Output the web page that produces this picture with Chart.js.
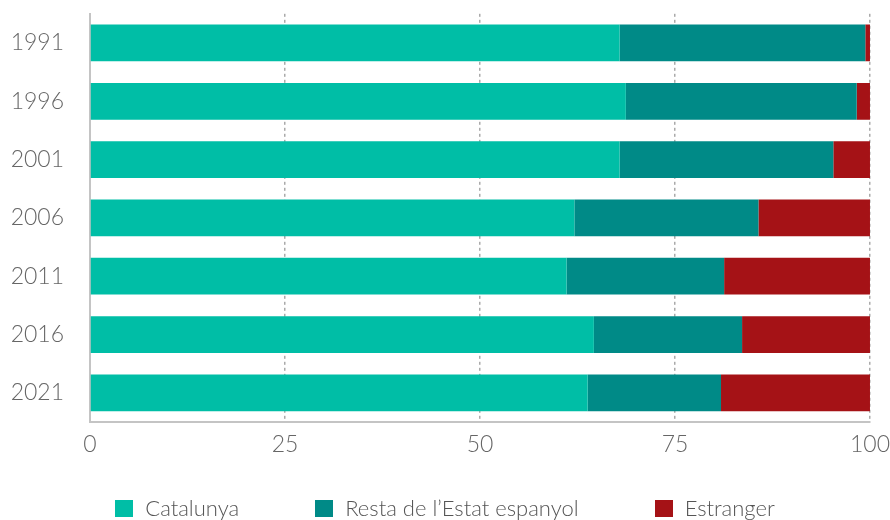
<!DOCTYPE html>
<html>
<head>
<meta charset="utf-8">
<script src="https://cdn.jsdelivr.net/npm/chart.js@4"></script>
<style>
    html, body { margin: 0; padding: 0; background: #fff; }
    #wrap { position: relative; width: 890px; height: 520px; }
    #legend {
        position: absolute; left: 0; top: 496px; width: 890px; height: 24px;
        display: flex; justify-content: center; gap: 76px;
        font-family: 'Lato', 'Open Sans', sans-serif; font-weight: 300;
        font-size: 22px; line-height: 24px; color: #555;
    }
    #legend .item { display: flex; align-items: center; height: 24px; }
    #legend .box { width: 18px; height: 17px; margin-right: 12px; }
</style>
</head>
<body>
<div id="wrap">
    <canvas id="chart" width="890" height="520"></canvas>
    <div id="legend"></div>
</div>
<script>
// datos (% de població segons lloc de naixement)
const years = ['1991', '1996', '2001', '2006', '2011', '2016', '2021'];
const seriesNames = ['Catalunya', 'Resta de l\u2019Estat espanyol', 'Estranger'];
const catalunya = [67.9, 68.7, 67.9, 62.1, 61.1, 64.6, 63.8];
const restaEstat = [31.5, 29.6, 27.4, 23.6, 20.2, 19.0, 17.1];
const estranger = [0.6, 1.7, 4.7, 14.3, 18.7, 16.4, 19.1];
const xTicks = [0, 25, 50, 75, 100];

const colors = ['#00bea6', '#008a87', '#a51216'];
const tickFont = { family: "'Lato', 'Open Sans', sans-serif", size: 23, weight: 300 };

const ctx = document.getElementById('chart').getContext('2d');
new Chart(ctx, {
    type: 'bar',
    data: {
        labels: years,
        datasets: [catalunya, restaEstat, estranger].map((data, i) => ({
            label: seriesNames[i],
            data: data,
            backgroundColor: colors[i],
            borderWidth: 0,
            barPercentage: 0.63,
            categoryPercentage: 1
        }))
    },
    options: {
        indexAxis: 'y',
        responsive: false,
        animation: false,
        layout: { padding: { top: 13, right: 16, left: 0, bottom: 0 } },
        plugins: {
            legend: { display: false },
            tooltip: { enabled: false }
        },
        scales: {
            x: {
                stacked: true,
                min: 0,
                max: 100,
                afterBuildTicks: (scale) => {
                    scale.ticks = xTicks.map(v => ({ value: v }));
                },
                afterFit: (scale) => { scale.height = 98; },
                grid: {
                    drawTicks: true,
                    tickLength: 9,
                    tickColor: 'rgba(0,0,0,0)',
                    color: (c) => c.tick && c.tick.value === 0 ? 'rgba(0,0,0,0)' : '#aaaaaa',
                    lineWidth: 1.5
                },
                border: { display: true, color: '#c4c4c4', width: 2, dash: [3, 3] },
                ticks: { font: tickFont, color: '#666', padding: 0, maxRotation: 0 }
            },
            y: {
                stacked: true,
                afterFit: (scale) => { scale.width = 90; },
                grid: {
                    display: true,
                    drawOnChartArea: false,
                    drawTicks: true,
                    tickLength: 26,
                    tickColor: 'rgba(0,0,0,0)'
                },
                border: { display: true, color: '#c4c4c4', width: 2 },
                ticks: { font: tickFont, color: '#666', padding: 0 }
            }
        }
    },
    plugins: [{
        id: 'solidAxes',
        // les línies d'eix han de ser contínues, la graella discontínua
        afterDraw(chart) {
            const { ctx, chartArea } = chart;
            ctx.save();
            ctx.strokeStyle = '#c4c4c4';
            ctx.lineWidth = 2;
            ctx.setLineDash([]);
            ctx.beginPath();
            ctx.moveTo(chartArea.left, chartArea.bottom);
            ctx.lineTo(chartArea.right, chartArea.bottom);
            ctx.stroke();
            ctx.restore();
        }
    }]
});

// llegenda HTML
const legend = document.getElementById('legend');
seriesNames.forEach((name, i) => {
    const item = document.createElement('div');
    item.className = 'item';
    item.innerHTML = `<span class="box" style="background:${colors[i]}"></span><span>${name}</span>`;
    legend.appendChild(item);
});
</script>
</body>
</html>
